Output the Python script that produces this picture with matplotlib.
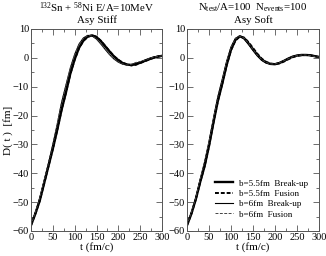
import matplotlib
matplotlib.use("Agg")
import matplotlib.pyplot as plt
from matplotlib.ticker import MultipleLocator

plt.rcParams['font.family'] = ['Liberation Serif', 'DejaVu Serif']
plt.rcParams['mathtext.fontset'] = 'custom'
plt.rcParams['mathtext.rm'] = 'Liberation Serif'
plt.rcParams['mathtext.it'] = 'Liberation Serif'

t = [0, 10, 20, 30, 40, 50, 60, 70, 80, 90, 100, 110, 120, 130, 140, 150,
     160, 170, 180, 190, 200, 210, 220, 230, 240, 250, 260, 270, 280, 290, 300]

# Asy Stiff
stiff_b55_bu = [-58, -54, -49.5, -43.5, -37.5, -31.5, -25, -18, -12, -5.5, -0.5, 3.5, 6.0, 7.4, 7.8,
                7.2, 5.8, 4.0, 2.2, 0.5, -0.8, -1.8, -2.3, -2.5, -2.2, -1.7, -1.1, -0.5, 0.0, 0.4, 0.7]
stiff_b55_fu = [-58, -54, -49.5, -43.5, -37.5, -31.5, -25, -18, -12, -5.6, -0.6, 3.4, 5.9, 7.3, 7.8,
                7.3, 5.9, 4.1, 2.3, 0.6, -0.7, -1.7, -2.3, -2.6, -2.4, -1.8, -1.2, -0.6, 0.0, 0.4, 0.7]
stiff_b6_bu = [-58, -53.5, -48.5, -42.5, -36.5, -30, -23, -15.5, -9.5, -3.5, 1.2, 4.8, 6.9, 7.8, 7.6,
               6.5, 4.8, 2.9, 1.1, -0.4, -1.5, -2.2, -2.5, -2.3, -1.9, -1.4, -0.8, -0.2, 0.3, 0.6, 0.8]
stiff_b6_fu = [-58, -53.5, -48.5, -42.5, -36.5, -30, -23, -15.5, -9.5, -3.6, 1.1, 4.7, 6.8, 7.7, 7.6,
               6.6, 4.9, 3.0, 1.2, -0.3, -1.4, -2.1, -2.5, -2.2, -1.6, -1.3, -0.8, -0.3, 0.2, 0.5, 0.7]

# Asy Soft
soft_b55_bu = [-58, -54, -49, -43, -37.5, -30.5, -22.5, -15, -9, -2.5, 2.8, 6.2, 7.5, 6.8, 5.0,
               3.0, 1.0, -0.6, -1.6, -2.1, -2.2, -1.8, -1.1, -0.3, 0.4, 0.8, 1.0, 1.0, 0.9, 0.6, 0.3]
soft_b55_fu = [-58, -54, -49, -43, -37.5, -30.5, -22.5, -15, -9, -2.6, 2.7, 6.0, 7.4, 7.0, 5.4,
               3.4, 1.4, -0.3, -1.4, -2.0, -2.2, -1.9, -1.3, -0.5, 0.2, 0.7, 0.9, 1.0, 0.9, 0.6, 0.3]
soft_b6_bu = [-58, -53.5, -48.5, -42, -36, -29, -21, -13.5, -7.5, -1.2, 3.8, 6.8, 7.6, 6.5, 4.6,
              2.5, 0.6, -0.9, -1.8, -2.2, -2.1, -1.6, -0.9, -0.1, 0.5, 0.9, 1.0, 1.0, 0.8, 0.5, 0.3]
soft_b6_fu = [-58, -53.5, -48.5, -42, -36, -29, -21, -13.5, -7.5, -1.3, 3.7, 6.6, 7.6, 6.8, 5.0,
              2.9, 0.9, -0.6, -1.6, -2.1, -2.1, -1.7, -1.0, -0.3, 0.4, 0.8, 1.0, 1.0, 0.8, 0.5, 0.3]

labels = ['b=5.5fm  Break-up', 'b=5.5fm  Fusion', 'b=6fm  Break-up', 'b=6fm  Fusion']
xticks = [0, 50, 100, 150, 200, 250, 300]
yticks = [-60, -50, -40, -30, -20, -10, 0, 10]

fig = plt.figure(figsize=(3.26, 2.56), dpi=100)
axL = fig.add_axes([31/326, 1-231/256, 131/326, 202/256])
axR = fig.add_axes([187/326, 1-231/256, 132/326, 202/256])

styles = [dict(color='black', lw=1.7, ls='-'),
          dict(color='black', lw=1.4, ls=(0, (2, 1))),
          dict(color='black', lw=0.8, ls='-'),
          dict(color='#444444', lw=0.7, ls=(0, (3, 1.5)))]

for ax, series in ((axL, [stiff_b55_bu, stiff_b55_fu, stiff_b6_bu, stiff_b6_fu]),
                   (axR, [soft_b55_bu, soft_b55_fu, soft_b6_bu, soft_b6_fu])):
    for s, st, lab in zip(series, styles, labels):
        ax.plot(t, s, label=lab, **st)
    ax.set_xlim(0, 300)
    ax.set_ylim(-60, 10)
    ax.set_xticks(xticks)
    ax.set_yticks(yticks)
    ax.xaxis.set_minor_locator(MultipleLocator(25))
    ax.yaxis.set_minor_locator(MultipleLocator(5))
    ax.tick_params(which='both', direction='in', top=True, right=True,
                   labelsize=7.5, pad=1.5, color='#555555')
    ax.tick_params(which='major', length=4, width=0.6)
    ax.tick_params(which='minor', length=2, width=0.6)
    for sp in ax.spines.values():
        sp.set_color('#555555')
        sp.set_linewidth(0.7)
    ax.set_xlabel('t (fm/c)', fontsize=8, labelpad=0)

axL.set_ylabel('D( t )  [fm]', fontsize=8, labelpad=0)

fig.text(97/326, 1-8/256, r'$^{132}$Sn + $^{58}$Ni E/A=10MeV', ha='center', va='center', fontsize=7.8)
fig.text(97/326, 1-20/256, 'Asy Stiff', ha='center', va='center', fontsize=7.8)
fig.text(253/326, 1-8/256, r'N$_{test}$/A=100  N$_{events}$=100', ha='center', va='center', fontsize=7.8)
fig.text(253/326, 1-20/256, 'Asy Soft', ha='center', va='center', fontsize=7.8)

axR.legend(loc='lower right', bbox_to_anchor=(0.955, 0.035), frameon=False, fontsize=6.5,
           handlelength=2.0, handletextpad=0.6, labelspacing=0.22, borderaxespad=0.2)

fig.savefig('out.png', dpi=100)
